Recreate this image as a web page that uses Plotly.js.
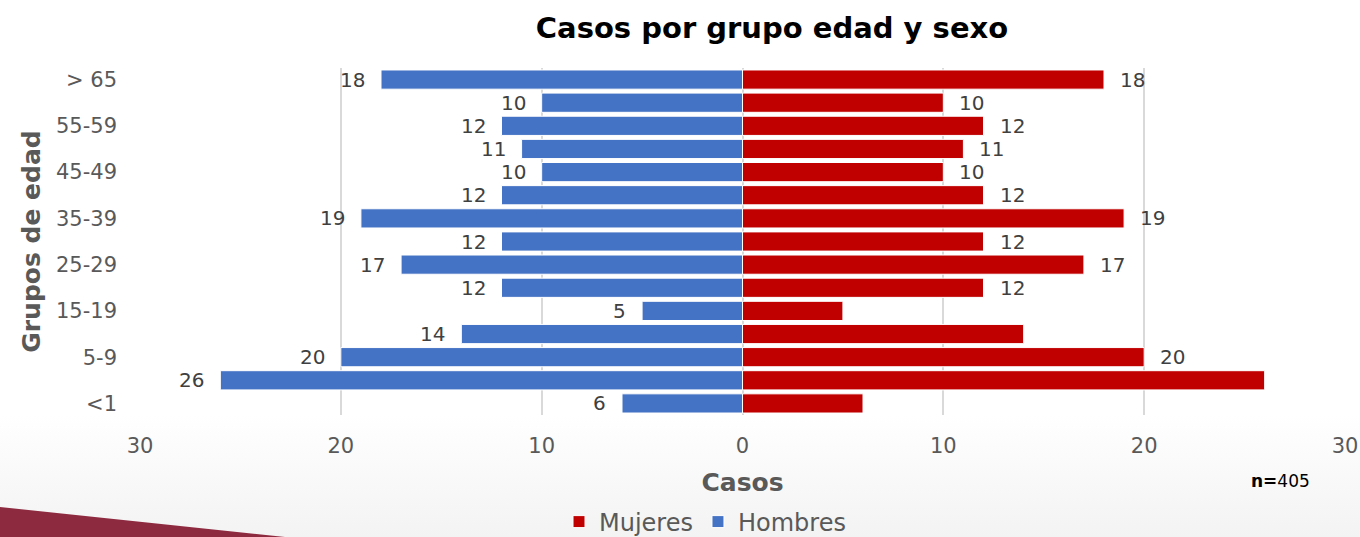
<!DOCTYPE html>
<html>
<head>
<meta charset="utf-8">
<script src="https://cdn.plot.ly/plotly-3.0.1.min.js"></script>
<style>
  html, body { margin: 0; padding: 0; width: 1360px; height: 537px; overflow: hidden; }
  #wrap { position: relative; width: 1360px; height: 537px;
          background: linear-gradient(to bottom, #ffffff 0px, #ffffff 415px, #f3f3f3 537px); }
  #deco { position: absolute; left: 0; top: 0; width: 1360px; height: 537px; }
  #chart { position: absolute; left: 0; top: 0; width: 1360px; height: 537px; }
</style>
</head>
<body>
<div id="wrap">
  <svg id="deco" width="1360" height="537"><polygon points="0,507 285,537 0,537" fill="#8E2A40"/></svg>
  <div id="chart"></div>
</div>
<script>
const categories = ["<1","1-4","5-9","10-14","15-19","20-24","25-29","30-34","35-39","40-44","45-49","50-54","55-59","60-64","> 65"];
const tickLabels = ["<1","","5-9","","15-19","","25-29","","35-39","","45-49","","55-59","","> 65"];
const hombres = [6,26,20,14,5,12,17,12,19,12,10,11,12,10,18];
const mujeres = [6,26,20,14,5,12,17,12,19,12,10,11,12,10,18];
const hombresLabels = ["6","26","20","14","5","12","17","12","19","12","10","11","12","10","18"];
const mujeresLabels = ["","","20","","","12","17","12","19","12","10","11","12","10","18"];
const xTickVals = [-30,-20,-10,0,10,20,30];
const xTickText = ["30","20","10","0","10","20","30"];

const FONT = "DejaVu Sans, sans-serif";
const labelFont = {family: FONT, size: 20, color: "#404040"};

const traces = [
  {
    type: "bar", orientation: "h", name: "Mujeres",
    y: categories, x: mujeres,
    marker: {color: "#C00000", line: {color: "#ffffff", width: 1}},
    hoverinfo: "x+y", legendrank: 1
  },
  {
    type: "bar", orientation: "h", name: "Hombres",
    y: categories, x: hombres.map(v => -v),
    marker: {color: "#4472C4", line: {color: "#ffffff", width: 1}},
    hoverinfo: "y", legendrank: 2
  }
];

const annotations = [];
categories.forEach((c, i) => {
  if (hombresLabels[i]) annotations.push({
    x: -hombres[i], y: c, xref: "x", yref: "y", text: hombresLabels[i],
    showarrow: false, xanchor: "right", xshift: -14, font: labelFont
  });
  if (mujeresLabels[i]) annotations.push({
    x: mujeres[i], y: c, xref: "x", yref: "y", text: mujeresLabels[i],
    showarrow: false, xanchor: "left", xshift: 14, font: labelFont
  });
});
annotations.push({
  xref: "paper", yref: "paper", x: (1280 - 140) / 1205, y: (415 - 481) / 346.5,
  text: "<b>n=</b>405", showarrow: false, xanchor: "center", yanchor: "middle",
  font: {family: FONT, size: 17, color: "#000000"}
});

const layout = {
  width: 1360, height: 537,
  paper_bgcolor: "rgba(0,0,0,0)", plot_bgcolor: "rgba(0,0,0,0)",
  margin: {l: 140, r: 15, t: 68, b: 122},
  barmode: "relative", bargap: 0.17,
  title: {
    text: "<b>Casos por grupo edad y sexo</b>",
    x: 772 / 1360, xanchor: "center", y: 1 - 28 / 537, yanchor: "middle",
    font: {family: FONT, size: 29, color: "#000000"}
  },
  xaxis: {
    range: [-30, 30], tickvals: xTickVals, ticktext: xTickText,
    showgrid: true, gridcolor: "#d9d9d9", gridwidth: 2,
    zeroline: false, showline: false, ticks: "",
    ticklabelstandoff: 16,
    tickfont: {family: FONT, size: 21, color: "#595959"},
    title: {text: "<b>Casos</b>", standoff: 16,
            font: {family: FONT, size: 25, color: "#595959"}},
    fixedrange: true
  },
  yaxis: {
    type: "category", categoryarray: categories, range: [-0.5, 14.5],
    tickvals: categories, ticktext: tickLabels,
    showgrid: false, zeroline: false, showline: false, ticks: "",
    ticklabelstandoff: 22,
    tickfont: {family: FONT, size: 21, color: "#595959"},
    title: {text: "<b>Grupos de edad</b>", standoff: 8,
            font: {family: FONT, size: 25, color: "#595959"}},
    fixedrange: true
  },
  showlegend: true,
  legend: {
    orientation: "h", x: 705 / 1360, xref: "container", xanchor: "center",
    y: 15 / 537, yref: "container", yanchor: "middle",
    font: {family: FONT, size: 24, color: "#595959"},
    itemwidth: 30, bgcolor: "rgba(0,0,0,0)"
  },
  annotations: annotations
};

Plotly.newPlot("chart", traces, layout, {displayModeBar: false, staticPlot: true});
</script>
</body>
</html>
